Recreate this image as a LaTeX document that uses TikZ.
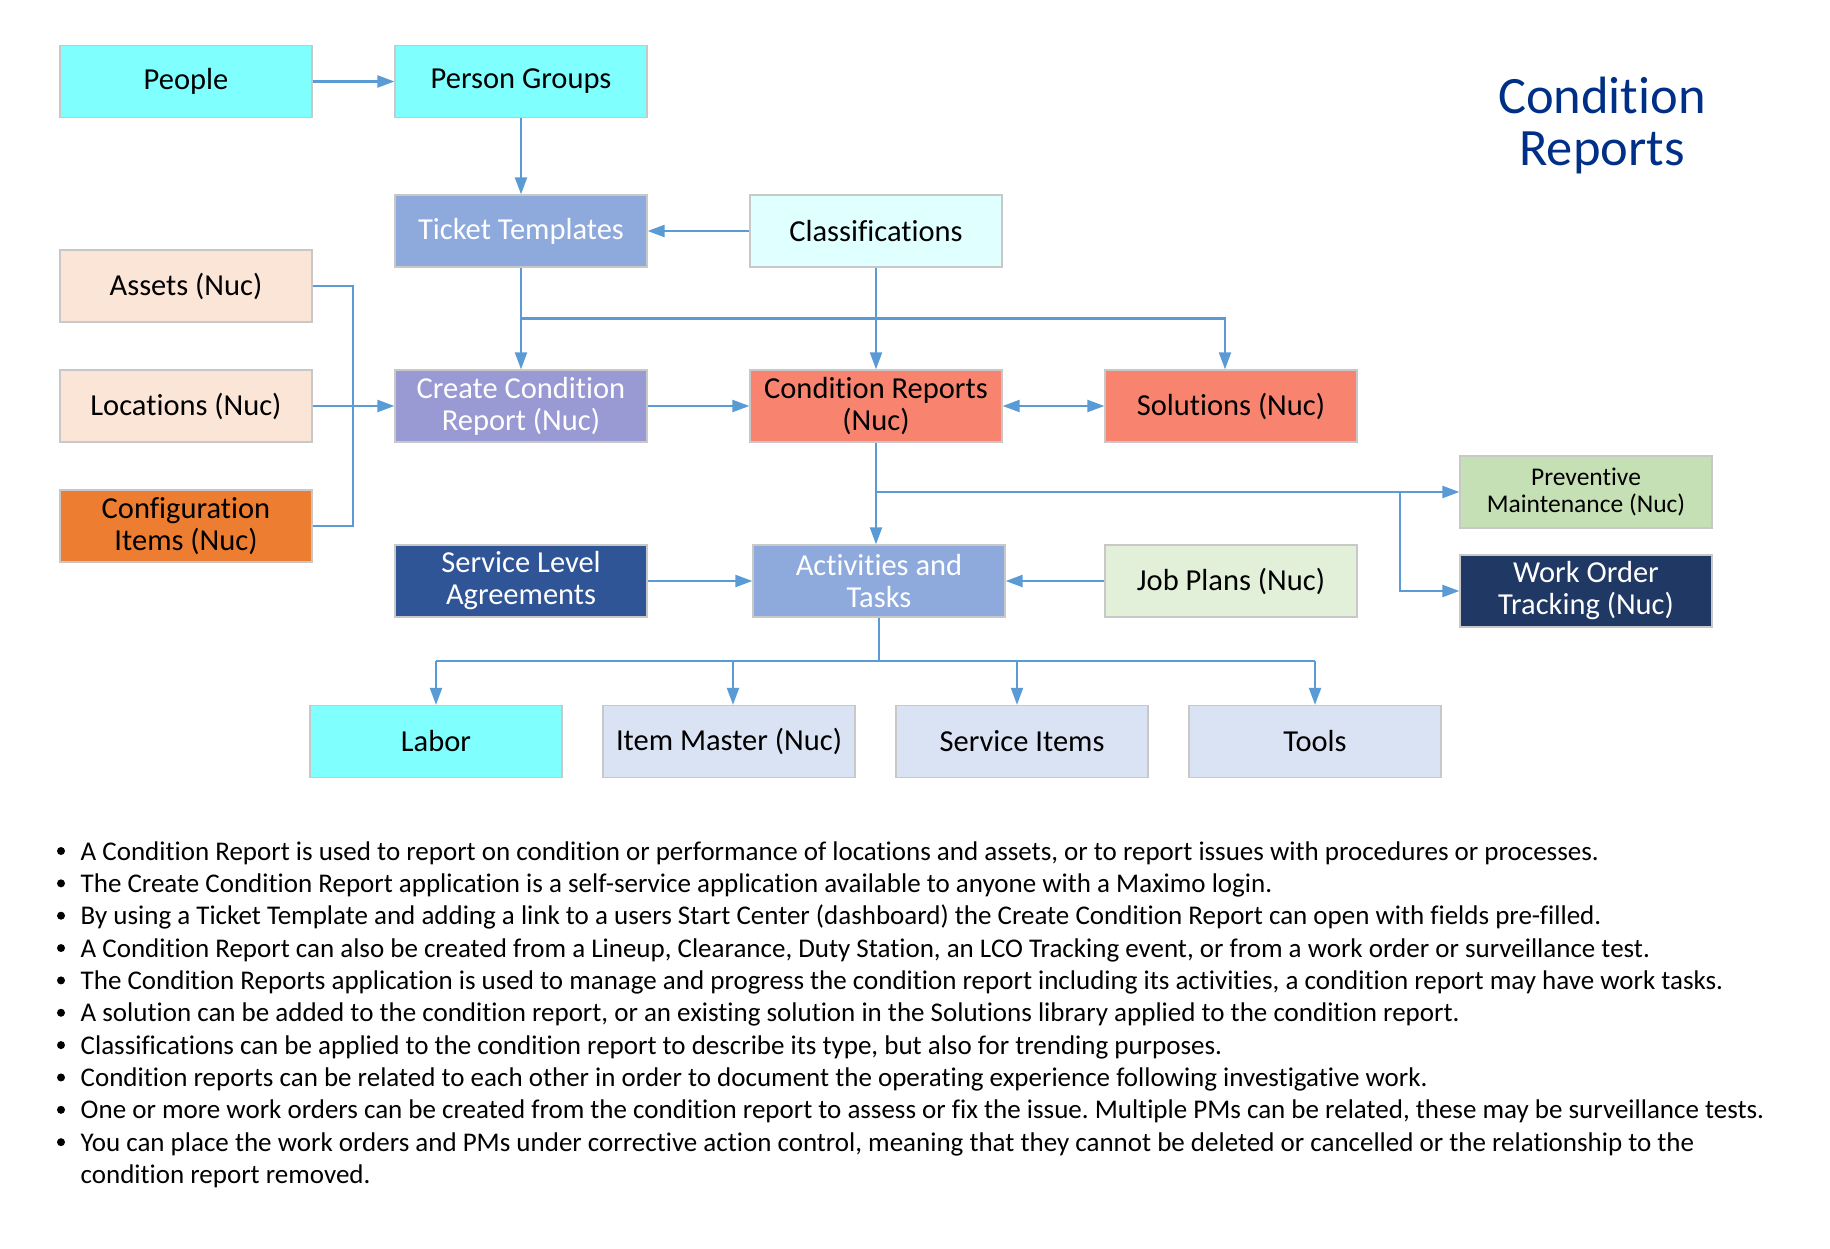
\documentclass[tikz,border=0pt]{standalone}
\usepackage{fontspec}
\setmainfont[Ligatures={NoCommon}]{Carlito}
\usetikzlibrary{arrows.meta}
\frenchspacing
\definecolor{cyanbox}{HTML}{80FFFF}
\definecolor{ttcol}{HTML}{8EA9DB}
\definecolor{clscol}{HTML}{E0FFFF}
\definecolor{peach}{HTML}{FBE5D6}
\definecolor{orangebox}{HTML}{ED7D31}
\definecolor{lavender}{HTML}{9999D3}
\definecolor{salmonbox}{HTML}{F8836F}
\definecolor{pmgreen}{HTML}{C5E0B4}
\definecolor{jpgreen}{HTML}{E2F0D9}
\definecolor{navybox}{HTML}{203864}
\definecolor{slabox}{HTML}{2F5597}
\definecolor{greyblue}{HTML}{DAE3F3}
\definecolor{boxline}{HTML}{C8C8C8}
\definecolor{conncol}{HTML}{5B9BD5}
\definecolor{titlecol}{HTML}{002F87}
\newcommand{\boxfont}{\fontsize{30.5}{32}\selectfont}
\newcommand{\bulfont}{\fontsize{27}{32.5}\selectfont}
\begin{document}
\frenchspacing
\begin{tikzpicture}[x=1pt,y=-1pt,
  box/.style={draw=boxline, line width=1.3pt, minimum width=252pt, minimum height=72pt,
    inner sep=0pt, align=center, font=\boxfont, text=black},
  wtext/.style={text=white},
  conn/.style={draw=conncol, line width=2.2pt},
  arr/.style={conn, -{Triangle[length=17pt,width=12pt]}},
  darr/.style={conn, {Triangle[length=17pt,width=12pt]}-{Triangle[length=17pt,width=12pt]}},
  bul/.style={anchor=base west, inner sep=0pt, font=\bulfont\frenchspacing, text=black},
]
\fill[white] (0,0) rectangle (1830,1249);
\useasboundingbox (0,0) rectangle (1830,1249);

% title
\node[align=center, font=\fontsize{52.5}{52.5}\selectfont, text=titlecol, inner sep=0pt] (title) at (1602,125.5) {Condition\\Reports};

% boxes
\node[box, fill=cyanbox] (people) at (186,81.5) {People};
\node[box, fill=cyanbox] (pgroups) at (521,81.5) {Person Groups};
\node[box, fill=ttcol, wtext] (tt) at (521,231) {Ticket Templates};
\node[box, fill=clscol] (cls) at (876,231) {Classifications};
\node[box, fill=peach] (assets) at (186,286) {Assets (Nuc)};
\node[box, fill=peach] (loc) at (186,406) {Locations (Nuc)};
\node[box, fill=orangebox] (ci) at (186,526) {Configuration\\Items (Nuc)};
\node[box, fill=lavender, wtext] (ccr) at (521,406) {Create Condition\\Report (Nuc)};
\node[box, fill=salmonbox] (cr) at (876,406) {Condition Reports\\(Nuc)};
\node[box, fill=salmonbox] (sol) at (1231,406) {Solutions (Nuc)};
\node[box, fill=pmgreen, font=\fontsize{25.5}{27}\selectfont] (pm) at (1586,492) {Preventive\\Maintenance (Nuc)};
\node[box, fill=navybox, wtext] (wot) at (1586,591) {Work Order\\Tracking (Nuc)};
\node[box, fill=slabox, wtext] (sla) at (521,581) {Service Level\\Agreements};
\node[box, fill=ttcol, wtext] (at) at (879,581) {Activities and\\Tasks};
\node[box, fill=jpgreen] (jp) at (1231,581) {Job Plans (Nuc)};
\node[box, fill=cyanbox] (labor) at (436,741.5) {Labor};
\node[box, fill=greyblue] (im) at (729,741.5) {Item Master (Nuc)};
\node[box, fill=greyblue] (si) at (1022,741.5) {Service Items};
\node[box, fill=greyblue] (tools) at (1315,741.5) {Tools};

% junction coordinates
\coordinate (j1) at (521,318.5);
\coordinate (solin) at (1225,318.5);
\coordinate (bus) at (353,406);
\coordinate (j2) at (876,492);
\coordinate (j3) at (1400,492);
\coordinate (j4) at (879,661);
\coordinate (imin) at (733,661);
\coordinate (siin) at (1017,661);

% connectors
\draw[arr] (people) -- (pgroups);
\draw[arr] (pgroups) -- (tt);
\draw[arr] (cls) -- (tt);
\draw[arr] (tt) -- (ccr);
\draw[arr] (j1) -- (solin) -- (solin |- sol.north);
\draw[arr] (cls) -- (cr);
\draw[conn] (assets.east) -| (bus) |- (ci.east);
\draw[arr] (loc) -- (ccr);
\draw[arr] (ccr) -- (cr);
\draw[darr] (cr) -- (sol);
\draw[arr] (cr.south) -- (cr.south |- at.north);
\draw[arr] (j2) -- (pm.west);
\draw[arr] (j3) |- (wot.west);
\draw[arr] (sla) -- (at);
\draw[arr] (jp) -- (at);
\draw[conn] (at.south) -- (j4);
\draw[conn] (labor.north |- j4) -- (tools.north |- j4);
\draw[arr] (labor.north |- j4) -- (labor.north);
\draw[arr] (imin) -- (imin |- im.north);
\draw[arr] (siin) -- (siin |- si.north);
\draw[arr] (tools.north |- j4) -- (tools.north);

% bullets
\foreach \k/\t in {0/{A Condition Report is used to report on condition or performance of locations and assets, or to report issues with procedures or processes.},
  1/{The Create Condition Report application is a self-service application available to anyone with a Maximo login.},
  2/{By using a Ticket Template and adding a link to a users Start Center (dashboard) the Create Condition Report can open with fields pre-filled.},
  3/{A Condition Report can also be created from a Lineup, Clearance, Duty Station, an LCO Tracking event, or from a work order or surveillance test.},
  4/{The Condition Reports application is used to manage and progress the condition report including its activities, a condition report may have work tasks.},
  5/{A solution can be added to the condition report, or an existing solution in the Solutions library applied to the condition report.},
  6/{Classifications can be applied to the condition report to describe its type, but also for trending purposes.},
  7/{Condition reports can be related to each other in order to document the operating experience following investigative work.},
  8/{One or more work orders can be created from the condition report to assess or fix the issue. Multiple PMs can be related, these may be surveillance tests.},
  9/{You can place the work orders and PMs under corrective action control, meaning that they cannot be deleted or cancelled or the relationship to the}}
{
  \node[bul] (b\k) at (80.5,{860+\k*32.35}) {\t};
  \fill[black] (61,{851+\k*32.35}) circle (4pt);
}
\node[bul] (b10) at (80.5,{860+10*32.35}) {condition report removed.};
\end{tikzpicture}
\end{document}
